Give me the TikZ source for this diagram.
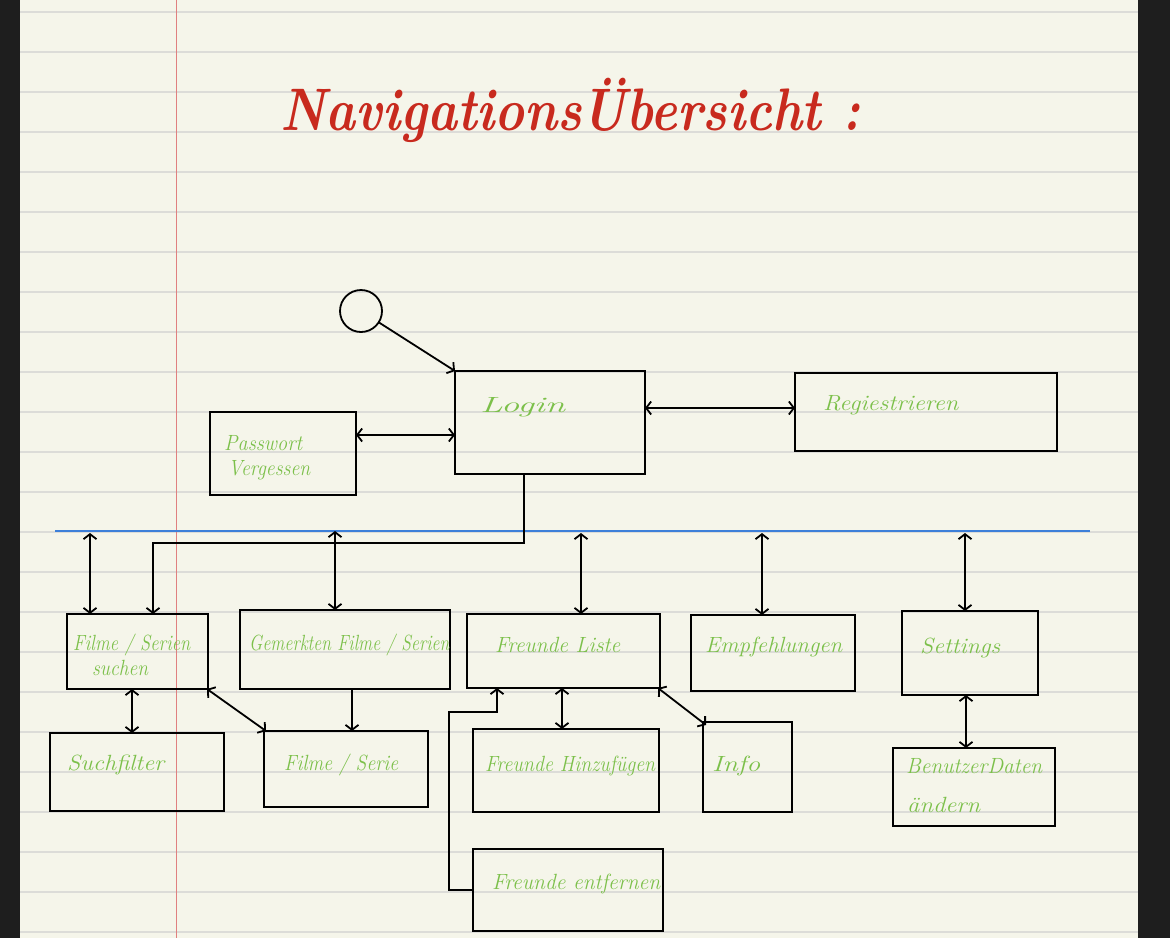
\documentclass[tikz,border=0pt]{standalone}
\usepackage{graphicx}
\usetikzlibrary{arrows.meta}
\definecolor{paper}{HTML}{F5F5EA}
\definecolor{darkband}{HTML}{1E1E1E}
\definecolor{ruleline}{HTML}{DCDCD8}
\definecolor{marginred}{HTML}{E08080}
\definecolor{blueline}{HTML}{3D7FD9}
\definecolor{lblgreen}{HTML}{7CC04A}
\definecolor{titlered}{HTML}{C82A1E}
\newcommand{\hw}[2]{\resizebox{#1}{\height}{#2}}
\tikzset{
  box/.style={draw=black, line width=1.8pt, inner sep=0pt, outer sep=0pt},
  lbl/.style={text=lblgreen, font=\fontsize{22}{24}\selectfont\itshape, inner sep=0pt, anchor=west},
  ttl/.style={text=titlered, font=\fontsize{60}{64}\selectfont\bfseries\itshape, inner sep=0pt, anchor=west},
  ar/.style={line width=1.8pt, -{Straight Barb[length=5pt,width=13pt]}},
  dar/.style={line width=1.8pt, {Straight Barb[length=5pt,width=13pt]}-{Straight Barb[length=5pt,width=13pt]}},
  ln/.style={line width=1.8pt}
}
\begin{document}
\begin{tikzpicture}[x=1pt,y=-1pt]
\useasboundingbox (0,0) rectangle (1170,938);
% paper background
\fill[darkband] (0,0) rectangle (1170,938);
\fill[paper] (20,0) rectangle (1138,938);
\foreach \k in {0,...,23}{
  \draw[ruleline, line width=1.5pt] (20,12+40*\k) -- (1138,12+40*\k);
}
\draw[marginred, line width=1pt] (176,0) -- (176,938);
% title
\node[ttl] (title) at (280,110) {\hw{580pt}{NavigationsÜbersicht :}};
% blue separator
\coordinate (bl) at (55,531);
\coordinate (br) at (1090,531);
\draw[blueline, line width=2pt] (bl) -- (br);
% start
\node[draw, circle, line width=1.8pt, minimum size=42pt, inner sep=0pt, outer sep=0pt] (start) at (361,311) {};
% top boxes
\node[box, minimum width=190pt, minimum height=103pt] (login) at (550,422.5) {};
\node[box, minimum width=262pt, minimum height=78pt] (reg) at (926,412) {};
\node[box, minimum width=146pt, minimum height=83pt] (pw) at (283,453.5) {};
% row 2
\node[box, minimum width=141pt, minimum height=75pt] (fs) at (137.5,651.5) {};
\node[box, minimum width=210pt, minimum height=79pt] (gm) at (345,649.5) {};
\node[box, minimum width=193pt, minimum height=74pt] (fl) at (563.5,651) {};
\node[box, minimum width=164pt, minimum height=76pt] (em) at (773,653) {};
\node[box, minimum width=136pt, minimum height=84pt] (st) at (970,653) {};
% row 3
\node[box, minimum width=174pt, minimum height=78pt] (sf) at (137,772) {};
\node[box, minimum width=164pt, minimum height=76pt] (fse) at (346,769) {};
\node[box, minimum width=186pt, minimum height=83pt] (fh) at (566,770.5) {};
\node[box, minimum width=89pt, minimum height=90pt] (info) at (747.5,767) {};
\node[box, minimum width=162pt, minimum height=78pt] (bd) at (974,787) {};
\node[box, minimum width=190pt, minimum height=82pt] (fe) at (568,890) {};
% labels
\node[lbl] (tlogin) at (480,407) {\hw{85pt}{Login}};
\node[lbl] (treg) at (823,405) {\hw{135pt}{Regiestrieren}};
\node[lbl] (tpw1) at (224,443) {\hw{78pt}{Passwort}};
\node[lbl] (tpw2) at (228,470) {\hw{82pt}{Vergessen}};
\node[lbl] (tfs1) at (73,645) {\hw{117pt}{Filme / Serien}};
\node[lbl] (tfs2) at (92,668) {\hw{56pt}{suchen}};
\node[lbl] (tgm) at (249,645) {\hw{200pt}{Gemerkten Filme / Serien}};
\node[lbl] (tfl) at (495,645) {\hw{125pt}{Freunde Liste}};
\node[lbl] (tem) at (705,647) {\hw{137pt}{Empfehlungen}};
\node[lbl] (tst) at (920,648) {\hw{80pt}{Settings}};
\node[lbl] (tsf) at (67,765) {\hw{97pt}{Suchfilter}};
\node[lbl] (tfse) at (284,765) {\hw{114pt}{Filme / Serie}};
\node[lbl] (tfh) at (485,766) {\hw{170pt}{Freunde Hinzufügen}};
\node[lbl] (tinfo) at (712,766) {\hw{48pt}{Info}};
\node[lbl] (tbd1) at (906,766) {\hw{136pt}{BenutzerDaten}};
\node[lbl] (tbd2) at (907,805) {\hw{73pt}{ändern}};
\node[lbl] (tfe) at (492,884) {\hw{168pt}{Freunde entfernen}};
% connectors top
\draw[ar] (start) -- (login.north west);
\draw[dar] ([yshift=18.5pt]pw.east) -- ([yshift=18.5pt]pw.east -| login.west);
\draw[dar] ([yshift=4pt]reg.west -| login.east) -- ([yshift=4pt]reg.west);
\coordinate (lj) at (524,543);
\draw[ar] (login.south -| lj) -- (lj) -| ([xshift=15.5pt]fs.north);
% from blue line
\coordinate (b1) at (90,531);
\coordinate (b2) at (335,531);
\coordinate (b3) at (581,531);
\coordinate (b4) at (762,531);
\coordinate (b5) at (965,531);
\draw[dar] ([yshift=-2pt]b1) -- (b1 |- fs.north);
\draw[dar] (b2) -- (b2 |- gm.north);
\draw[dar] ([yshift=-2pt]b3) -- (b3 |- fl.north);
\draw[dar] ([yshift=-2pt]b4) -- (b4 |- em.north);
\draw[dar] ([yshift=-2pt]b5) -- (b5 |- st.north);
% lower connectors
\draw[dar] ([xshift=-5.5pt]fs.south) -- ([xshift=-5.5pt]fs.south |- sf.north);
\draw[ar] ([xshift=7pt]gm.south) -- ([xshift=7pt]gm.south |- fse.north);
\draw[dar] ([xshift=-1pt]fs.south east) -- ([xshift=2pt]fse.north west);
\draw[dar] ([xshift=-1.5pt]fl.south) -- ([xshift=-1.5pt]fl.south |- fh.north);
\draw[dar] ([xshift=-2pt]fl.south east) -- ([xshift=3pt,yshift=-3pt]info.north west);
\draw[dar] ([xshift=-4pt]st.south) -- ([xshift=-4pt]st.south |- bd.north);
\coordinate (c1) at (449,712);
\draw[ar] (fe.west) -| (c1) -| ([xshift=-66.5pt]fl.south);
\end{tikzpicture}
\end{document}
